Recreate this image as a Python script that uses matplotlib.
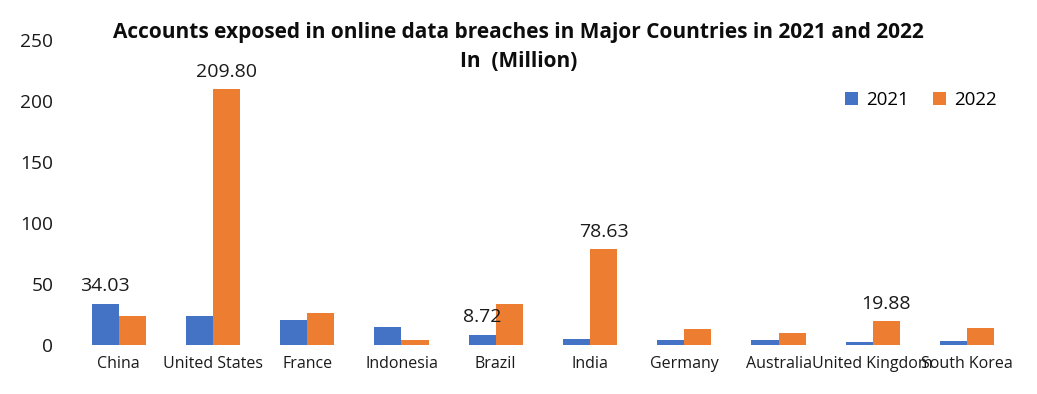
import matplotlib
matplotlib.use("Agg")
import matplotlib.pyplot as plt
import numpy as np

countries = ["China", "United States", "France", "Indonesia", "Brazil",
             "India", "Germany", "Australia", "United Kingdom", "South Korea"]
values_2021 = [34.03, 24.0, 20.5, 14.8, 8.72, 4.9, 4.0, 4.0, 2.7, 3.5]
values_2022 = [24.0, 209.80, 26.5, 4.0, 33.6, 78.63, 13.1, 10.0, 19.88, 14.0]
yticks = [0, 50, 100, 150, 200, 250]
# which bars carry a data label: (series index, category index)
labelled = [(0, 0), (1, 1), (0, 4), (1, 5), (1, 8)]

plt.rcParams['font.family'] = ['Open Sans', 'DejaVu Sans']

fig = plt.figure(figsize=(10.37, 3.94), dpi=100)
ax = fig.add_axes([0.069, 0.124, 0.909, 0.774])

x = np.arange(len(countries))
w = 0.287
series = [values_2021, values_2022]
colors = ["#4472C4", "#ED7D31"]
names = ["2021", "2022"]
bars = []
for i, (vals, c, n) in enumerate(zip(series, colors, names)):
    b = ax.bar(x + (i - 0.5) * w, vals, width=w, color=c, label=n, zorder=2)
    bars.append(b)

for si, ci in labelled:
    v = series[si][ci]
    ax.annotate(f"{v:.2f}", xy=(x[ci] + (si - 0.5) * w, v),
                xytext=(0, 6), textcoords="offset points",
                ha="center", va="bottom", fontsize=14, color="#1a1a1a")

ax.set_xlim(-0.5, len(countries) - 0.5)
ax.set_ylim(0, 250)
ax.set_yticks(yticks)
ax.set_xticks(x)
ax.set_xticklabels(countries, fontsize=11.5, color="#1a1a1a")
ax.tick_params(axis="y", labelsize=13.8, colors="#1a1a1a", length=0, pad=13)
ax.tick_params(axis="x", length=0, pad=8)
for s in ax.spines.values():
    s.set_visible(False)

fig.text(0.5, 0.918, "Accounts exposed in online data breaches in Major Countries in 2021 and 2022",
         ha="center", va="center", fontsize=15, fontweight="bold", color="#0d0d0d")
fig.text(0.5, 0.845, "In  (Million)",
         ha="center", va="center", fontsize=15, fontweight="bold", color="#0d0d0d")

fig.legend(handles=bars, labels=names, loc="center", bbox_to_anchor=(0.888, 0.745),
           ncol=2, frameon=False, fontsize=13.5, handlelength=0.7, handleheight=0.7,
           columnspacing=1.3, handletextpad=0.4)

fig.savefig("out.png", dpi=100)
